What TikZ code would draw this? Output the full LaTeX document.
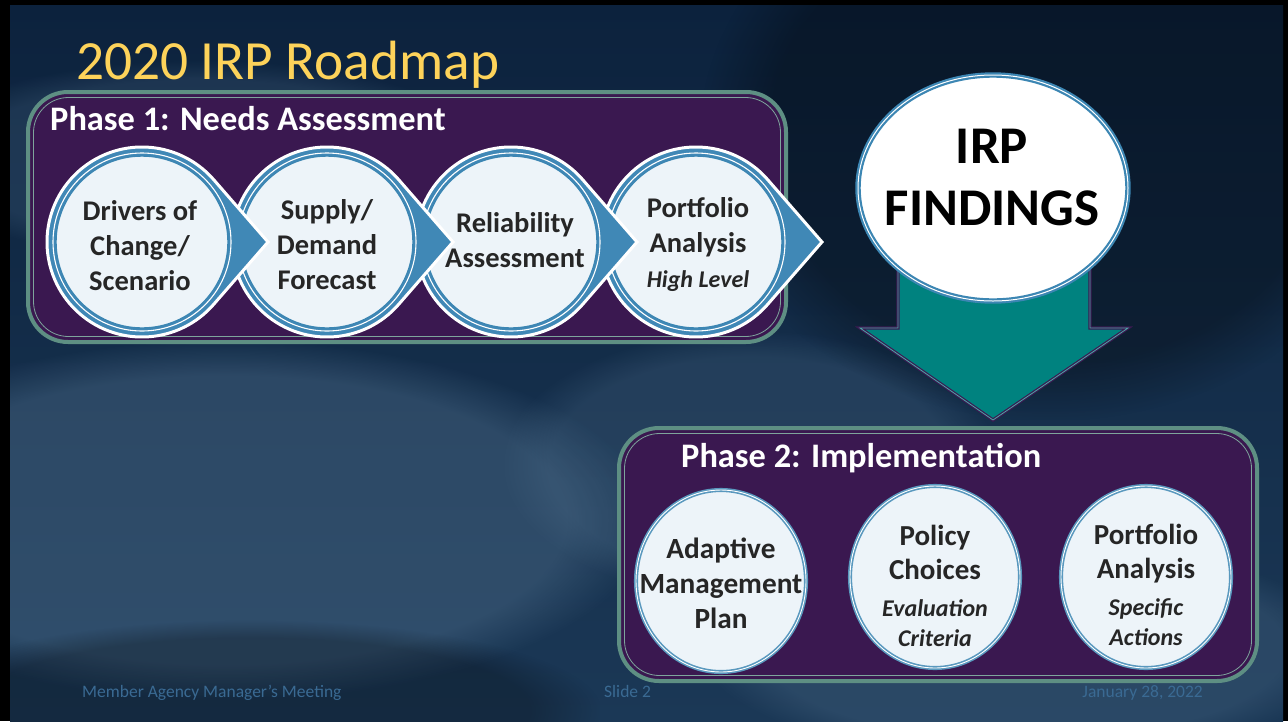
\documentclass[tikz,border=0pt]{standalone}
\usepackage{fontspec}
\setmainfont{Carlito}
\usetikzlibrary{shapes.geometric,fadings}
\definecolor{bgtop}{HTML}{0C223D}
\definecolor{bgbot}{HTML}{1B3856}
\definecolor{bglite}{HTML}{5A7B98}
\definecolor{boxfill}{HTML}{3A1850}
\definecolor{boxline}{HTML}{5E8F83}
\definecolor{chevblue}{HTML}{4088B6}
\definecolor{ringblue}{HTML}{3C86B3}
\definecolor{lightfill}{HTML}{EDF4F9}
\definecolor{txt}{HTML}{262626}
\definecolor{teal}{HTML}{00827F}
\definecolor{arrline}{HTML}{3B1A52}
\definecolor{titleyel}{HTML}{FDD35A}
\definecolor{foot}{HTML}{3A6A93}
\newcommand\subtx{\fontsize{24}{30}\selectfont\bfseries\itshape}
\tikzset{
  phasebox/.style={draw=boxline, line width=4pt, fill=boxfill, rounded corners=40pt},
  phaseinner/.style={draw=boxline!80!white, line width=0.8pt, rounded corners=35pt},
  phasetitle/.style={text=white, font=\fontsize{34.4}{40}\selectfont\bfseries, anchor=base west, inner sep=0pt},
  chevshape/.style={fill=chevblue, draw=white, line width=3pt, line join=miter},
  innercirc/.style={circle, minimum size=172pt, inner sep=0pt, fill=lightfill, draw=ringblue, line width=1.4pt},
  ctext/.style={text=txt, font=\fontsize{28.5}{35}\selectfont\bfseries, align=center, inner sep=0pt},
  p2ell/.style={ellipse, minimum width=170pt, minimum height=182pt, inner sep=0pt, fill=lightfill, draw=ringblue!85!white, double=white, double distance=0.9pt, line width=1.6pt},
  footer/.style={text=foot, font=\fontsize{17.5}{20}\selectfont, inner sep=0pt}
}
\begin{document}
\begin{tikzpicture}[x=1pt,y=-1pt]
\useasboundingbox (0,0) rectangle (1288,721);
\fill[black] (0,0) rectangle (1288,721);
\shade[top color=bgtop, bottom color=bgbot] (10,5) rectangle (1283,721);
\begin{scope}
  \clip (10,5) rectangle (1283,721);
  \fill[bglite, opacity=0.35, path fading=circle with fuzzy edge 20 percent] (-200,340) rectangle (650,700);
  \fill[bglite, opacity=0.22, path fading=circle with fuzzy edge 20 percent] (500,330) rectangle (1000,600);
  \fill[bglite, opacity=0.25, path fading=circle with fuzzy edge 20 percent] (700,540) rectangle (1350,760);
  \fill[bglite, opacity=0.2, path fading=circle with fuzzy edge 20 percent] (-100,60) rectangle (500,260);
  \fill[black, opacity=0.3, path fading=circle with fuzzy edge 20 percent] (700,-150) rectangle (1400,420);
  \fill[black, opacity=0.25, path fading=circle with fuzzy edge 20 percent] (-100,620) rectangle (600,800);
\end{scope}

% title
\node[text=titleyel, font=\fontsize{55.3}{66}\selectfont, anchor=base west, inner sep=0pt] (title) at (76,79) {2020 IRP Roadmap};

% phase 1 box
\draw[phasebox] (28,92) rectangle (786,342);
\draw[phaseinner] (33.5,97.5) rectangle (780.5,336.5);
\node[phasetitle] (p1title) at (50,130) {Phase 1: Needs Assessment};

% chevron circles, drawn right to left
\foreach \cx/\n in {696/4,511/3,327/2,142/1}{
  \draw[chevshape] (\cx,242) ++(41:95) arc[start angle=41,end angle=319,radius=95] -- (\cx+126,242) -- cycle;
  \draw[white, line width=1.1pt] (\cx,242) circle[radius=89];
  \node[innercirc] (c\n) at (\cx,242) {};
}
\node[ctext] (t1) at (140,246) {Drivers of\\Change/\\Scenario};
\node[ctext] (t2) at (327,245) {Supply/\\Demand\\Forecast};
\node[ctext] (t3) at (515,240) {Reliability\\Assessment};
\node[ctext] (t4) at (698,245) {Portfolio\\Analysis\\[0pt]{\subtx High Level}};

% teal arrow
\draw[fill=teal, draw=arrline, line width=1.2pt, double=teal!70!white, double distance=0.8pt, line join=miter]
  (898,240) -- (898,328) -- (860,328) -- (993,420) -- (1128,328) -- (1090,328) -- (1090,240) -- cycle;

% IRP findings
\node[ellipse, minimum width=270pt, minimum height=226pt, inner sep=0pt, fill=white, draw=ringblue, double=white, double distance=1pt, line width=2.2pt] (irp) at (993,188) {};
\node[text=black, font=\fontsize{53}{62}\selectfont\bfseries, align=center, inner sep=0pt] (irptext) at (992,177) {IRP\\FINDINGS};

% phase 2 box
\draw[phasebox] (619,428) rectangle (1257,681);
\draw[phaseinner] (624.5,433.5) rectangle (1251.5,675.5);
\node[phasetitle] (p2title) at (681,467) {Phase 2: Implementation};

\node[p2ell] (e1) at (721,581) {};
\node[p2ell] (e2) at (935,577) {};
\node[p2ell] (e3) at (1146,577) {};
\node[ctext, font=\fontsize{29.3}{35}\selectfont\bfseries] (u1) at (721,583) {Adaptive\\Management\\Plan};
\node[ctext, font=\fontsize{29}{34}\selectfont\bfseries] (u2) at (935,586) {Policy\\Choices\\[3pt]{\subtx Evaluation}\\[-4pt]{\subtx Criteria}};
\node[ctext, font=\fontsize{29}{34}\selectfont\bfseries] (u3) at (1146,585) {Portfolio\\Analysis\\[3pt]{\subtx Specific}\\[-4pt]{\subtx Actions}};

% footer
\node[footer, anchor=base west] (f1) at (82,697) {Member Agency Manager’s Meeting};
\node[footer, anchor=base west] (f2) at (604,697) {Slide 2};
\node[footer, anchor=base east] (f3) at (1203,697) {January 28, 2022};
\end{tikzpicture}
\end{document}
